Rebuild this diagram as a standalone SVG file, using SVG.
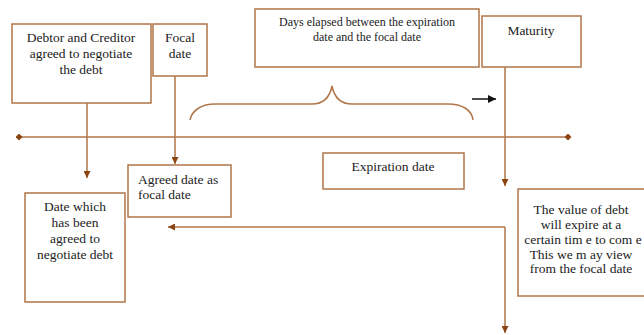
<svg xmlns="http://www.w3.org/2000/svg" width="644" height="335" viewBox="0 0 644 335">
<style>
.box{fill:#fff;stroke:#b0764a;stroke-width:1.5}
.ln{fill:none;stroke:#b0764a;stroke-width:1.5}
.t{font-family:"Liberation Serif","DejaVu Serif",serif;font-size:13.5px;fill:#222}
.c{text-anchor:middle}
</style>
<defs>
<marker id="ah" viewBox="0 0 10 10" refX="10" refY="5" markerWidth="7" markerHeight="7" markerUnits="userSpaceOnUse" orient="auto"><path d="M0,0 L10,5 L0,10 z" fill="#8b4513"/></marker>
<marker id="ahk" viewBox="0 0 10 10" refX="10" refY="5" markerWidth="8" markerHeight="8" markerUnits="userSpaceOnUse" orient="auto"><path d="M0,0 L10,5 L0,10 z" fill="#111"/></marker>
<marker id="dm" viewBox="0 0 10 10" refX="5" refY="5" markerWidth="7" markerHeight="7" markerUnits="userSpaceOnUse"><path d="M5,0 L10,5 L5,10 L0,5 z" fill="#8b4513"/></marker>
</defs>
<rect width="644" height="335" fill="#fff"/>
<g id="connectors">
<line class="ln" x1="19" y1="137" x2="568" y2="137" marker-start="url(#dm)" marker-end="url(#dm)"/>
<line class="ln" x1="87" y1="103" x2="87" y2="178" marker-end="url(#ah)"/>
<line class="ln" x1="175" y1="76" x2="175" y2="164" marker-end="url(#ah)"/>
<line class="ln" x1="505" y1="67" x2="505" y2="186" marker-end="url(#ah)"/>
<polyline class="ln" points="505,227 505,333" marker-end="url(#ah)"/>
<line class="ln" x1="505" y1="227" x2="168" y2="227" marker-end="url(#ah)"/>
<path class="ln" d="M190,120 C192,110 202,104 215,104 L312,104 C324,104 330,96 332,86 C334,96 340,104 352,104 L448,104 C462,104 472,110 473,120"/>
<line x1="472" y1="99" x2="496" y2="99" stroke="#111" stroke-width="1.5" marker-end="url(#ahk)"/>
</g>
<g id="debtor">
<rect class="box" x="12" y="24" width="139" height="79"/>
<text class="t c" x="81" y="42">Debtor and Creditor</text>
<text class="t c" x="81" y="58">agreed to negotiate</text>
<text class="t c" x="81" y="74">the debt</text>
</g>
<g id="focal">
<rect class="box" x="153" y="24" width="54" height="52"/>
<text class="t c" x="180" y="42">Focal</text>
<text class="t c" x="180" y="58">date</text>
</g>
<g id="days">
<rect class="box" x="255" y="9" width="224" height="58"/>
<text class="t c" x="367" y="26" style="font-size:12px">Days elapsed between the expiration</text>
<text class="t c" x="367" y="41" style="font-size:12px">date and the focal date</text>
</g>
<g id="maturity">
<rect class="box" x="482" y="16" width="99" height="51"/>
<text class="t c" x="531" y="35">Maturity</text>
</g>
<g id="agreed">
<rect class="box" x="128" y="165" width="103" height="52"/>
<text class="t" x="138" y="184">Agreed  date as</text>
<text class="t" x="138" y="199">focal date</text>
</g>
<g id="datewhich">
<rect class="box" x="25" y="193" width="100" height="109"/>
<text class="t c" x="75" y="211">Date which</text>
<text class="t c" x="75" y="227">has been</text>
<text class="t c" x="75" y="243">agreed to</text>
<text class="t c" x="75" y="259">negotiate debt</text>
</g>
<g id="expiration">
<rect class="box" x="323" y="153" width="141" height="36"/>
<text class="t c" x="393" y="171">Expiration date</text>
</g>
<g id="value">
<rect class="box" x="518" y="189" width="140" height="107"/>
<text class="t c" x="581" y="214">The value of debt</text>
<text class="t c" x="581" y="229">will  expire at a</text>
<text class="t c" x="583" y="244">certain tim e to com e</text>
<text class="t c" x="581" y="259">This we m ay view</text>
<text class="t c" x="581" y="273">from  the focal date</text>
</g>
</svg>
